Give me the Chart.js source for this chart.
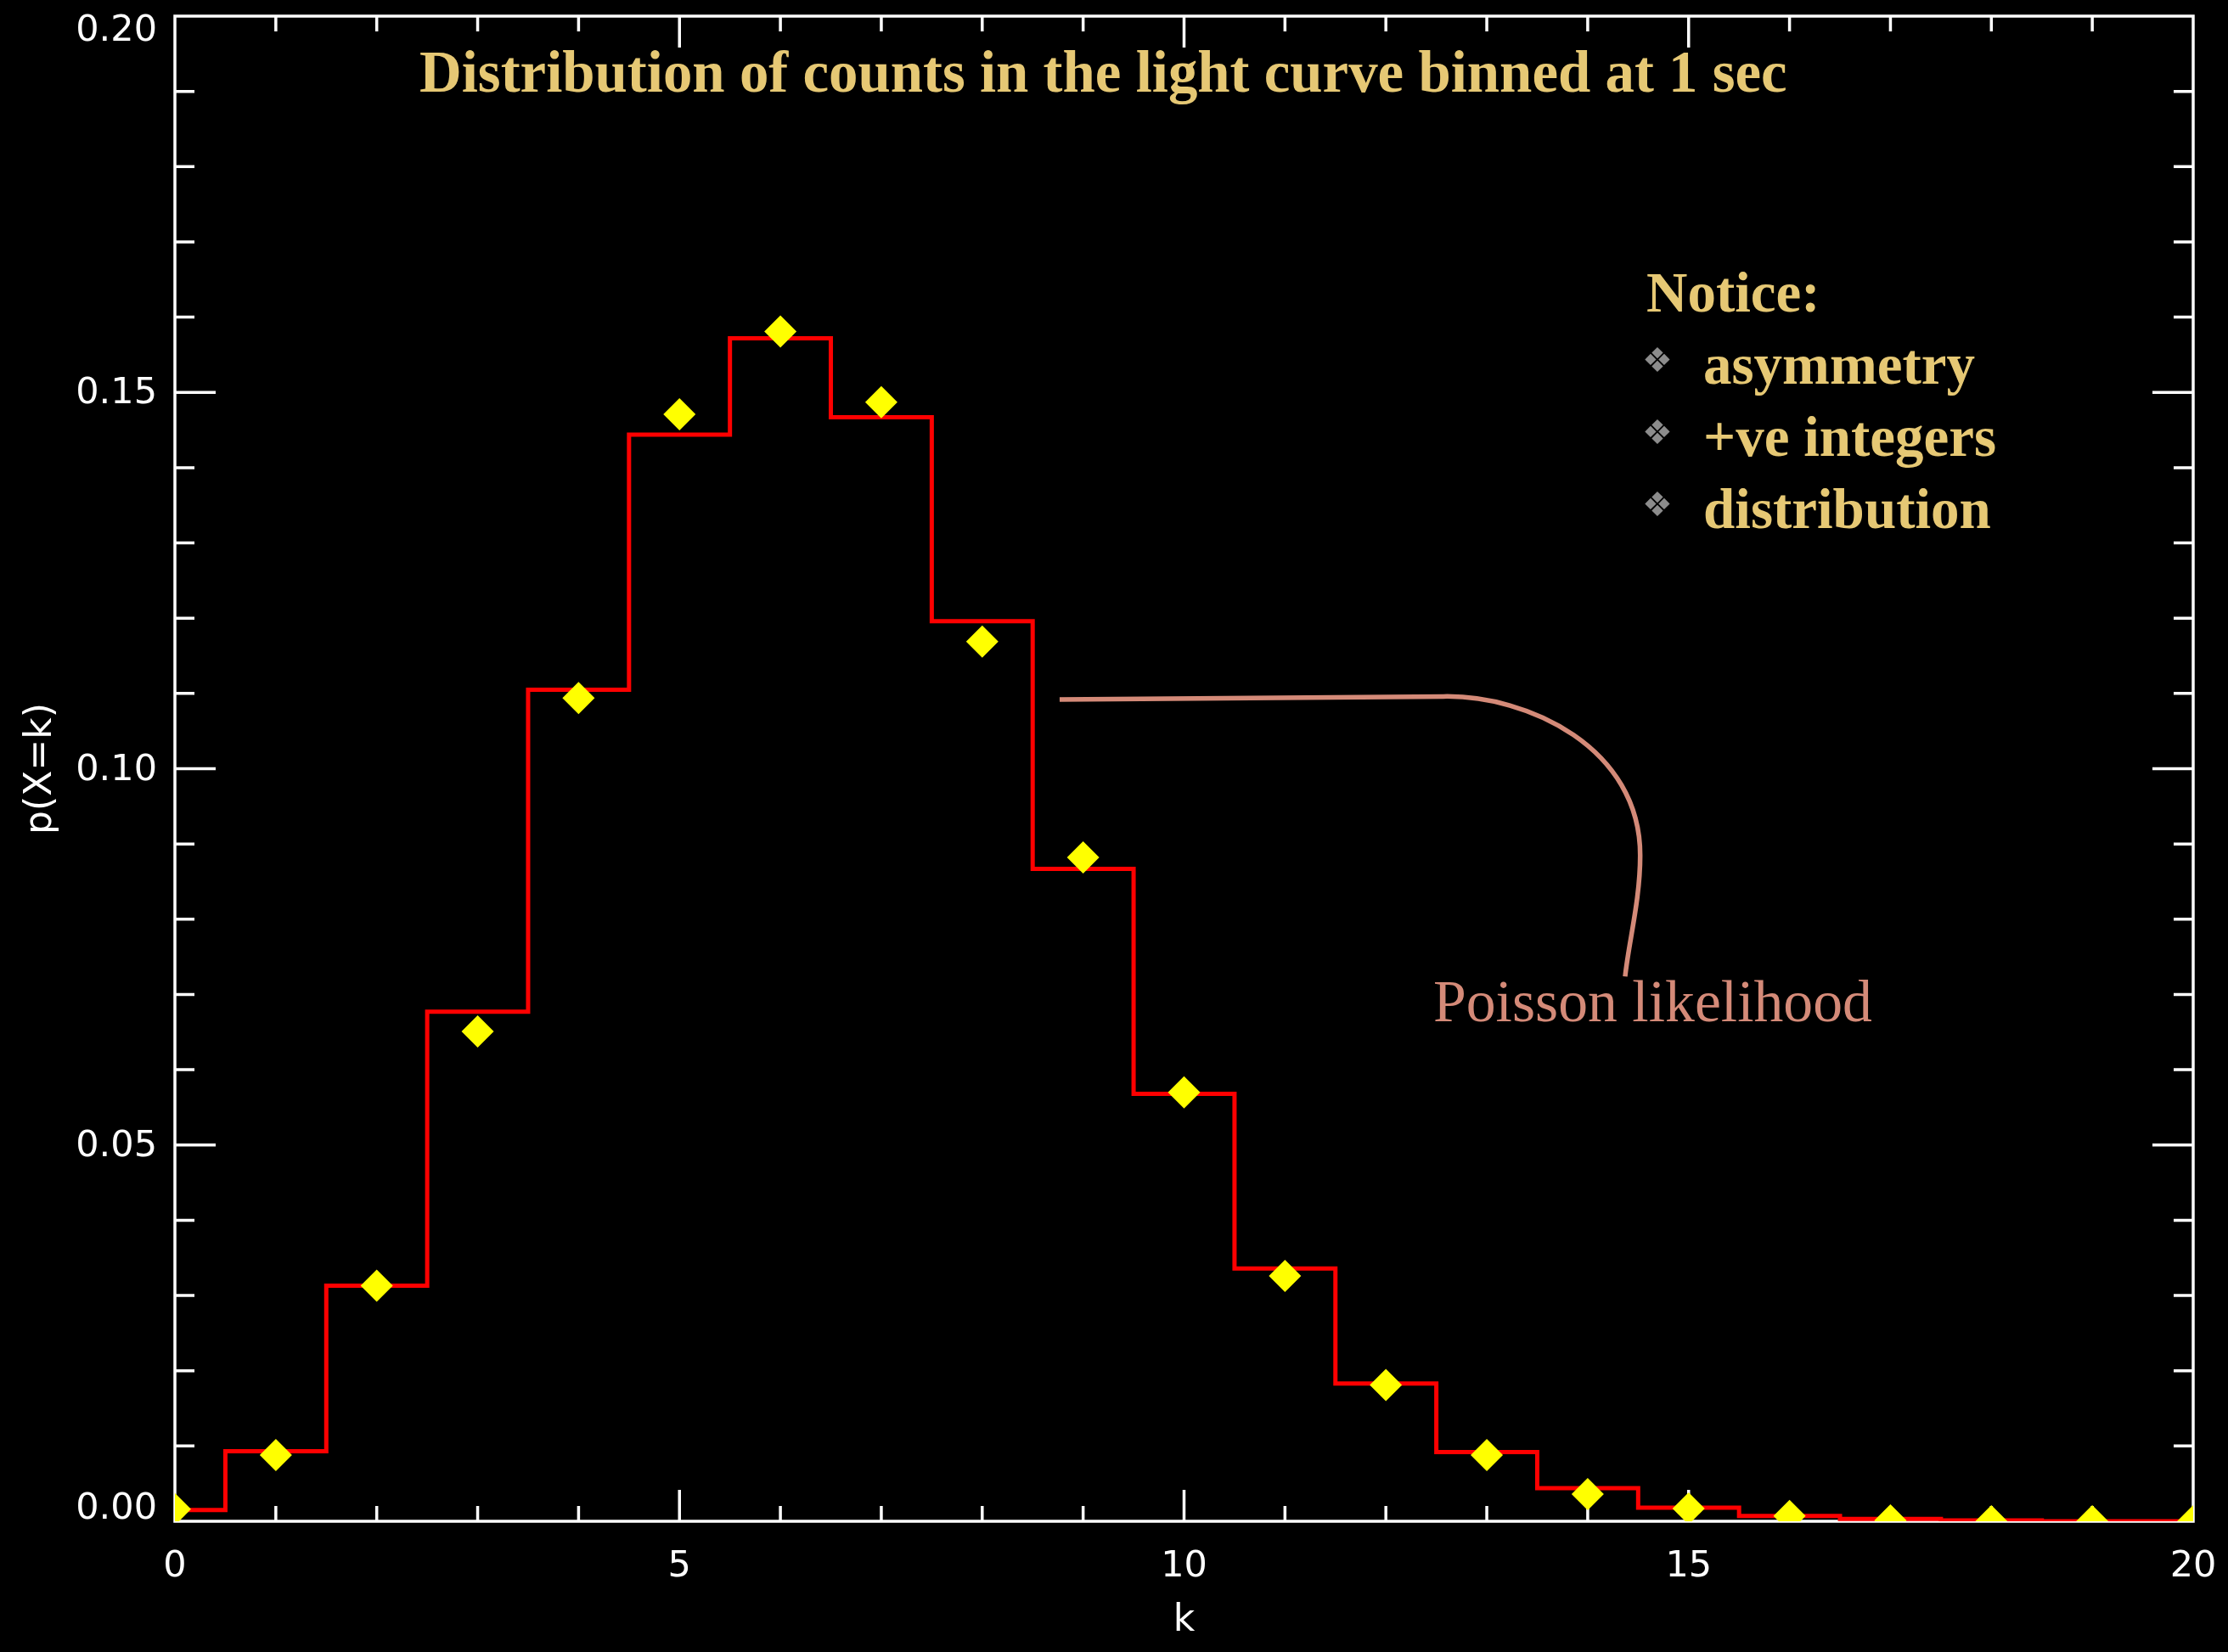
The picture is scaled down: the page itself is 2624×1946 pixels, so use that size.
<!DOCTYPE html>
<html>
<head>
<meta charset="utf-8">
<script src="https://cdn.jsdelivr.net/npm/chart.js@4.4.1/dist/chart.umd.min.js"></script>
<style>
html,body{margin:0;padding:0;background:#000;overflow:hidden}
canvas{display:block}
</style>
</head>
<body>
<canvas id="c" width="2624" height="1946"></canvas>
<script>
// ---------------- data ----------------
const kValues = [0,1,2,3,4,5,6,7,8,9,10,11,12,13,14,15,16,17,18,19,20];
// red histogram (observed distribution of counts)
const histogramValues = [0.0015,0.0093,0.0313,0.0677,0.1105,0.1444,0.1572,0.1467,0.1196,0.0867,0.0568,0.0336,0.0183,0.0092,0.0044,0.0018,0.0007,0.0003,0.0001,0.0000,0.0000];
// yellow diamonds (Poisson likelihood)
const poissonValues = [0.0016,0.0088,0.0313,0.0651,0.1094,0.1471,0.1581,0.1487,0.1169,0.0882,0.0570,0.0326,0.0181,0.0088,0.0036,0.0017,0.0007,0.0001,0.0000,0.0000,0.0000];
const xTickValues = [0,5,10,15,20];
const xTickLabels = ['0','5','10','15','20'];
const yTickValues = [0,0.05,0.10,0.15,0.20];
const yTickLabels = ['0.00','0.05','0.10','0.15','0.20'];
const xTitle = 'k';
const yTitle = 'p(X=k)';
const chartTitle = 'Distribution of counts in the light curve binned at 1 sec';
const noticeHeading = 'Notice:';
const noticeItems = ['asymmetry','+ve integers','distribution'];
const annotationLabel = 'Poisson likelihood';
// annotation connector, in data coordinates
const connector = {
  start:[8.767,0.1092], straightTo:[12.57,0.1096],
  c1:[13.41,0.1098], c2:[14.52,0.1028], mid:[14.52,0.0885],
  c3:[14.52,0.0825], c4:[14.405,0.0769], end:[14.371,0.0724]
};

// ---------------- styles ----------------
const WHITE = '#ffffff';
const GOLD = '#E6C874';
const SALMON = '#D48A78';
const AXIS_FONT = 'DejaVu Sans';
const SERIF = '"Liberation Serif", "DejaVu Serif", serif';

function fitFont(ctx, text, weight, family, targetWidth) {
  ctx.font = weight + ' 100px ' + family;
  const w = ctx.measureText(text).width;
  return weight + ' ' + (100 * targetWidth / w).toFixed(2) + 'px ' + family;
}

const framePlugin = {
  id: 'frame',
  beforeDatasetsDraw(chart) {
    const ctx = chart.ctx;
    const {left, right, top, bottom} = chart.chartArea;
    const xs = chart.scales.x, ys = chart.scales.y;
    ctx.save();
    ctx.strokeStyle = WHITE;
    ctx.lineWidth = 3.5;
    ctx.lineCap = 'butt';
    ctx.strokeRect(left, top, right - left, bottom - top);
    ctx.beginPath();
    for (let v = 1; v < 20; v++) {
      const len = (v % 5 === 0) ? 37 : 18;
      const px = xs.getPixelForValue(v);
      ctx.moveTo(px, bottom); ctx.lineTo(px, bottom - len);
      ctx.moveTo(px, top); ctx.lineTo(px, top + len);
    }
    for (let i = 1; i < 20; i++) {
      const len = (i % 5 === 0) ? 48 : 23;
      const py = ys.getPixelForValue(i * 0.01);
      ctx.moveTo(left, py); ctx.lineTo(left + len, py);
      ctx.moveTo(right, py); ctx.lineTo(right - len, py);
    }
    ctx.stroke();

    // y tick labels (kept inside the frame's vertical extent, as in the original)
    ctx.fillStyle = WHITE;
    ctx.font = '43px "DejaVu Sans"';
    ctx.textAlign = 'right';
    ctx.textBaseline = 'middle';
    yTickValues.forEach((v, i) => {
      let py = ys.getPixelForValue(v) + 2;
      py = Math.min(Math.max(py, top + 18), bottom - 14);
      ctx.fillText(yTickLabels[i], left - 21, py);
    });
    ctx.restore();
  },
  afterDraw(chart) {
    const ctx = chart.ctx;
    const xs = chart.scales.x, ys = chart.scales.y;
    const P = (p) => [xs.getPixelForValue(p[0]), ys.getPixelForValue(p[1])];
    ctx.save();
    // connector curve
    ctx.strokeStyle = SALMON;
    ctx.lineWidth = 5.5;
    ctx.lineCap = 'butt';
    ctx.beginPath();
    let a = P(connector.start); ctx.moveTo(a[0], a[1]);
    a = P(connector.straightTo); ctx.lineTo(a[0], a[1]);
    let b1 = P(connector.c1), b2 = P(connector.c2), b3 = P(connector.mid);
    ctx.bezierCurveTo(b1[0], b1[1], b2[0], b2[1], b3[0], b3[1]);
    b1 = P(connector.c3); b2 = P(connector.c4); b3 = P(connector.end);
    ctx.bezierCurveTo(b1[0], b1[1], b2[0], b2[1], b3[0], b3[1]);
    ctx.stroke();

    // title
    ctx.textBaseline = 'alphabetic';
    ctx.textAlign = 'left';
    ctx.fillStyle = GOLD;
    ctx.font = fitFont(ctx, chartTitle, 'bold', SERIF, 1611);
    ctx.fillText(chartTitle, 494, 108);

    // notice block
    const itemFont = fitFont(ctx, noticeItems[0], 'bold', SERIF, 320);
    ctx.font = itemFont;
    ctx.fillText(noticeHeading, 1939, 367);
    const baselines = [452, 537, 622];
    noticeItems.forEach((t, i) => {
      ctx.fillStyle = GOLD;
      ctx.font = itemFont;
      ctx.textAlign = 'left';
      ctx.textBaseline = 'alphabetic';
      ctx.fillText(t, 2006, baselines[i]);
      ctx.fillStyle = '#8C8C8C';
      ctx.font = '40px "DejaVu Sans"';
      ctx.textAlign = 'center';
      ctx.textBaseline = 'middle';
      ctx.fillText('\u2756', 1952, baselines[i] - 24);
    });

    // Poisson likelihood label
    ctx.fillStyle = SALMON;
    ctx.textAlign = 'left';
    ctx.textBaseline = 'alphabetic';
    ctx.font = fitFont(ctx, annotationLabel, 'normal', SERIF, 517);
    ctx.fillText(annotationLabel, 1688, 1203);
    ctx.restore();
  }
};

const ctx = document.getElementById('c').getContext('2d');
new Chart(ctx, {
  type: 'scatter',
  data: {
    datasets: [
      {
        label: 'Poisson likelihood',
        data: kValues.map((k, i) => ({x: k, y: poissonValues[i]})),
        pointStyle: 'rectRot',
        pointRadius: 19,
        pointHoverRadius: 19,
        backgroundColor: '#FFFF00',
        borderWidth: 0,
        showLine: false,
        clip: 0,
        order: 0
      },
      {
        label: 'Observed counts',
        type: 'line',
        data: kValues.map((k, i) => ({x: k, y: histogramValues[i]})),
        stepped: 'middle',
        borderColor: '#FF0000',
        borderWidth: 5,
        pointRadius: 0,
        fill: false,
        order: 1
      }
    ]
  },
  options: {
    responsive: false,
    animation: false,
    devicePixelRatio: 1,
    events: [],
    layout: {padding: {left: 0, right: 41, top: 18, bottom: 0}},
    plugins: {legend: {display: false}, tooltip: {enabled: false}, title: {display: false}},
    scales: {
      x: {
        type: 'linear', min: 0, max: 20,
        afterBuildTicks: (s) => { s.ticks = xTickValues.map(v => ({value: v})); },
        afterFit: (s) => { s.height = 154; s.paddingLeft = 0; s.paddingRight = 0; },
        grid: {display: false, drawTicks: false},
        border: {display: false},
        ticks: {
          color: WHITE, padding: 28, maxRotation: 0, autoSkip: false,
          font: {family: AXIS_FONT, size: 43},
          callback: (v, i) => xTickLabels[i]
        },
        title: {display: true, text: xTitle, color: WHITE, font: {family: AXIS_FONT, size: 44}, padding: {top: 0, bottom: 10}}
      },
      y: {
        type: 'linear', min: 0, max: 0.2,
        afterBuildTicks: (s) => { s.ticks = yTickValues.map(v => ({value: v})); },
        afterFit: (s) => { s.width = 206; s.paddingTop = 0; s.paddingBottom = 0; },
        grid: {display: false, drawTicks: false},
        border: {display: false},
        ticks: {display: false},
        title: {display: true, text: yTitle, color: WHITE, font: {family: AXIS_FONT, size: 44}, padding: {top: 22, bottom: 0}}
      }
    }
  },
  plugins: [framePlugin]
});
</script>
</body>
</html>
